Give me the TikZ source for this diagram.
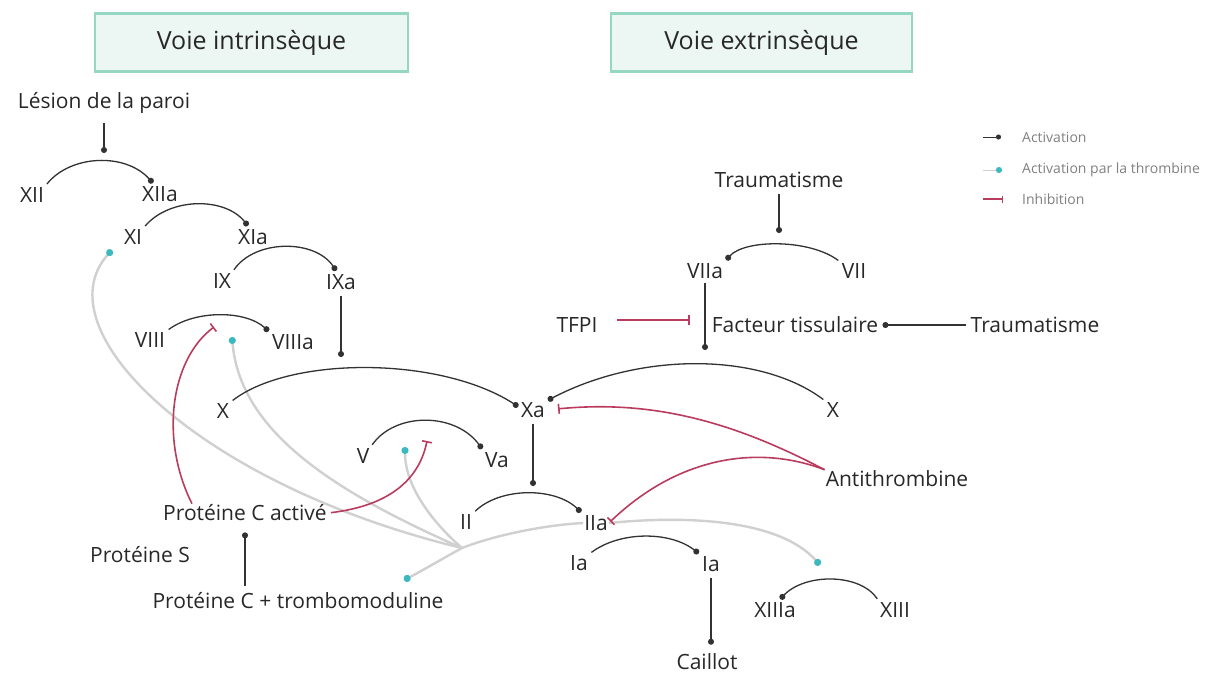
\documentclass[tikz,border=0pt]{standalone}
\usepackage{fontspec}
\setmainfont{Open Sans}
\usetikzlibrary{arrows.meta,calc}

\definecolor{actc}{RGB}{50,50,50}
\definecolor{thrc}{RGB}{208,208,208}
\definecolor{dotc}{RGB}{60,185,190}
\definecolor{inhc}{RGB}{185,60,95}
\definecolor{boxfill}{RGB}{236,246,243}
\definecolor{boxline}{RGB}{150,215,195}
\definecolor{txt}{RGB}{40,40,40}

\tikzset{
  lbl/.style={font=\fontsize{21}{23}\selectfont, text=txt, inner sep=1pt},
  titlebox/.style={draw=boxline, line width=2.5pt, fill=boxfill, text=txt,
    minimum height=58pt, font=\fontsize{25}{27}\selectfont},
  act/.style={draw=actc, line width=1.3pt, -{Circle[length=6pt,width=6pt]}},
  thr/.style={draw=thrc, line width=2.4pt},
  thrtip/.style={thr, -{Circle[length=7pt,width=7pt,color=dotc]}},
  inh/.style={draw=inhc, line width=1.6pt, -{Bar[width=10pt]}},
  leg/.style={font=\fontsize{14}{16}\selectfont, text=black!50, anchor=west, inner sep=0pt},
}

\begin{document}
\begin{tikzpicture}[x=1pt,y=-1pt]
\useasboundingbox[fill=white] (0,0) rectangle (1215,675);

% headers
\node[titlebox, minimum width=313pt] (T1) at (251.5,42.5) {Voie intrinsèque};
\node[titlebox, minimum width=301pt] (T2) at (761.5,42.5) {Voie extrinsèque};

% intrinsic pathway
\node[lbl] (Lesion) at (104,103) {Lésion de la paroi};
\node[lbl] (XII)   at (32,195)  {XII};
\node[lbl] (XIIa)  at (160,194) {XIIa};
\node[lbl] (XI)    at (133,237) {XI};
\node[lbl] (XIa)   at (253,237) {XIa};
\node[lbl] (IX)    at (222,281) {IX};
\node[lbl] (IXa)   at (341,282) {IXa};
\node[lbl] (VIII)  at (150,340) {VIII};
\node[lbl] (VIIIa) at (293,342) {VIIIa};
\node[lbl] (Xl)    at (223,411) {X};
\node[lbl] (Xa)    at (533,410) {Xa};
\node[lbl] (V)     at (363,456) {V};
\node[lbl] (Va)    at (497,460) {Va};
\node[lbl] (II)    at (466,522) {II};
\node[lbl] (IIa)   at (596,523) {IIa};
\node[lbl] (Ia1)   at (579,563) {Ia};
\node[lbl] (Ia2)   at (711,564) {Ia};
\node[lbl] (Caillot) at (707,662) {Caillot};
\node[lbl] (XIIIa) at (775,610) {XIIIa};
\node[lbl] (XIII)  at (895,610) {XIII};
\node[lbl] (PCa)   at (245,513) {Protéine C activé};
\node[lbl] (PS)    at (140,555) {Protéine S};
\node[lbl] (PCT)   at (298,601) {Protéine C + trombomoduline};

% extrinsic pathway
\node[lbl] (Trauma1) at (779,180) {Traumatisme};
\node[lbl] (VIIa)  at (705,271) {VIIa};
\node[lbl] (VII)   at (854,271) {VII};
\node[lbl] (TFPI)  at (577,325) {TFPI};
\node[lbl] (FT)    at (795,325) {Facteur tissulaire};
\node[lbl] (Trauma2) at (1035,325) {Traumatisme};
\node[lbl] (Xr)    at (833,410) {X};
\node[lbl] (AT)    at (897,479) {Antithrombine};

% free ends of connectors
\coordinate (lz)  at (104,153);
\coordinate (lX)  at (341,357);
\coordinate (rX)  at (705,353);
\coordinate (lII) at (533,486);
\coordinate (tv)  at (779,233);
\coordinate (tb)  at (690,320);
\coordinate (iVIII) at (214,327);
\coordinate (iV)  at (427,441);
\coordinate (hub) at (462,548);
\coordinate (tXI) at (112,250);
\coordinate (tVIII) at (232,337);
\coordinate (tV)  at (405,447);
\coordinate (tPC) at (404,580);
\coordinate (tXIII) at (820,565);

% thrombin feedback (drawn first, behind)
\draw[thr] (IIa.west) .. controls (545,525) and (495,535) .. (hub);
\draw[thrtip] (IIa.east) .. controls (690,515) and (780,520) .. (tXIII);
\draw[thrtip] (hub) .. controls (200,485) and (40,330) .. (tXI);
\draw[thrtip] (hub) .. controls (330,490) and (240,430) .. (tVIII);
\draw[thrtip] (hub) .. controls (430,520) and (405,485) .. (tV);
\draw[thrtip] (hub) .. controls (440,560) and (420,572) .. (tPC);

% activation cascade
\draw[act, shorten <=8pt] (Lesion) -- (lz);
\draw[act, shorten <=3pt, shorten >=3pt] (XII.north east) .. controls (70,155) and (125,152) .. (XIIa.120);
\draw[act, shorten <=3pt, shorten >=3pt] (XI.north east) .. controls (170,197) and (225,197) .. (XIa.110);
\draw[act, shorten <=3pt, shorten >=3pt] (IX.north east) .. controls (255,239) and (315,239) .. (IXa.110);
\draw[act, shorten <=3pt, shorten >=3pt] (VIII.north east) .. controls (195,310) and (245,310) .. (VIIIa.north west);
\draw[act, shorten <=5pt] (IXa) -- (lX);
\draw[act, shorten <=3pt, shorten >=2pt] (Xl.north east) .. controls (290,356) and (440,356) .. (Xa.170);
\draw[act, shorten <=3pt, shorten >=2pt] (Xr.north west) .. controls (760,352) and (640,352) .. (Xa.north east);
\draw[act, shorten <=3pt, shorten >=3pt] (V.north east) .. controls (395,412) and (455,412) .. (Va.north west);
\draw[act, shorten <=5pt] (Xa) -- (lII);
\draw[act, shorten <=3pt, shorten >=3pt] (II.north east) .. controls (500,487) and (555,487) .. (IIa.north west);
\draw[act, shorten <=3pt, shorten >=3pt] (Ia1.north east) .. controls (620,531) and (670,531) .. (Ia2.north west);
\draw[act, shorten <=5pt, shorten >=8pt] (Ia2) -- (Ia2 |- Caillot.north);
\draw[act, shorten <=3pt, shorten >=3pt] (XIII.north west) .. controls (860,573) and (805,573) .. (XIIIa.70);
\draw[act, shorten <=6pt, shorten >=10pt] (PCa.south |- PCT.north) -- (PCa.south);
\draw[act, shorten <=5pt] (Trauma1) -- (tv);
\draw[act, shorten <=3pt, shorten >=3pt] (VII.north west) .. controls (810,239) and (745,239) .. (VIIa.north east);
\draw[act, shorten <=3pt, shorten >=3pt] (VIIa) -- (rX);
\draw[act, shorten <=4pt, shorten >=3pt] (Trauma2) -- (FT);

% inhibitions
\draw[inh, shorten <=18pt] (TFPI.east |- tb) -- (tb);
\draw[inh, shorten >=12pt] (AT.north west) .. controls (730,420) and (650,400) .. (Xa.east);
\draw[inh, shorten >=2pt] (AT.north west) .. controls (760,445) and (680,455) .. (IIa.east);
\draw[inh] (PCa.170) .. controls (160,440) and (170,360) .. (iVIII);
\draw[inh, shorten <=3pt] (PCa.east) .. controls (395,505) and (420,475) .. (iV);

% key
\coordinate (la1) at (983,137); \coordinate (la2) at (1001,137);
\coordinate (lt1) at (983,170); \coordinate (lt2) at (1002,170);
\coordinate (li1) at (983,199); \coordinate (li2) at (1003,199);
\draw[act, line width=0.8pt, -{Circle[length=5pt,width=5pt]}] (la1) -- (la2);
\draw[draw=thrc, line width=1pt, -{Circle[length=6pt,width=6pt,color=dotc]}] (lt1) -- (lt2);
\draw[inh, line width=1.2pt, -{Bar[width=7pt]}] (li1) -- (li2);
\node[leg] (kA) at (1022,137) {Activation};
\node[leg] (kT) at (1022,170) {Activation par la thrombine};
\node[leg] (kI) at (1022,199) {Inhibition};
\end{tikzpicture}
\end{document}
